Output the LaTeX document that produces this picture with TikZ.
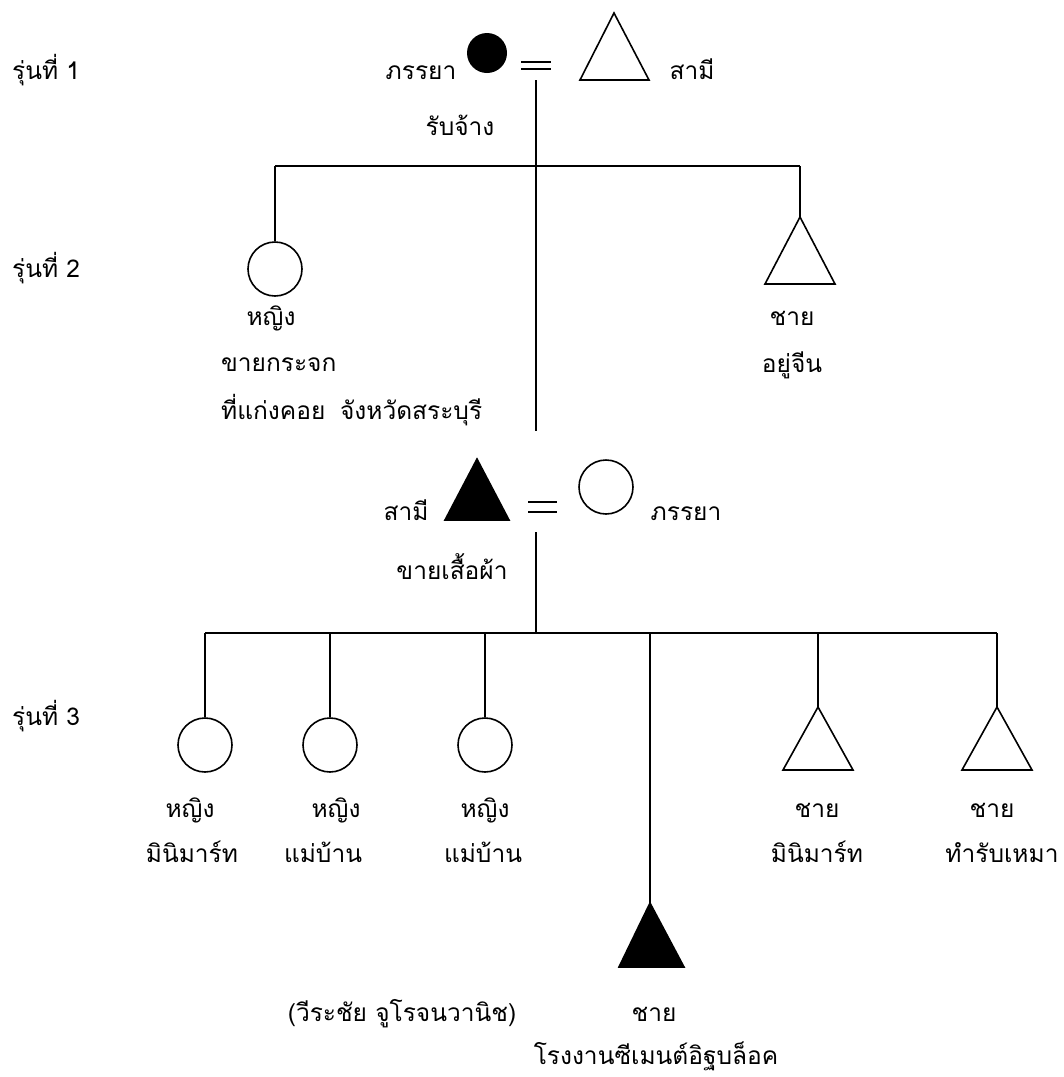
\documentclass[tikz,border=0pt]{standalone}
\usepackage{fontspec}
\newfontfamily\thai[Script=Thai]{Loma}
\begin{document}
\begin{tikzpicture}[x=1pt,y=-1pt,
  lbl/.style={font=\thai\fontsize{24.5}{28}\selectfont, inner sep=0pt, anchor=base, text=black},
  lblw/.style={lbl, anchor=base west},
  ln/.style={line width=1.4pt, draw=black},
  shp/.style={line width=1.6pt, draw=black},
  fem/.style={circle, shp, fill=white, minimum size=54pt, inner sep=0pt},
  femd/.style={circle, fill=black, minimum size=40pt, inner sep=0pt}]
\useasboundingbox (0,0) rectangle (1064,1077);
\fill[white] (0,0) rectangle (1064,1077);
% generation labels
\node[lblw] (gen1) at (12,79) {รุ่นที่ 1};
\node[lblw] (gen2) at (12,277) {รุ่นที่ 2};
\node[lblw] (gen3) at (12,725) {รุ่นที่ 3};
% ---------- generation 1
\node[femd] (w1) at (487,53) {};
\draw[shp] (580,80) -- (614,13) -- (649,80) -- cycle;
\coordinate (h1) at (614,13);
\draw[shp] (521,62) -- (551,62) (521,69) -- (551,69);
\node[lbl] (w1lbl) at (421,79) {ภรรยา};
\node[lbl] (h1lbl) at (692,79) {สามี};
\node[lbl] (w1job) at (460,135) {รับจ้าง};
\coordinate (c1top) at (536,80);
\coordinate (c1bot) at (536,431);
\coordinate (bar1l) at (275,166);
\coordinate (bar1r) at (800,166);
\draw[ln] (c1top) -- (c1bot);
\draw[ln] (bar1l) -- (bar1r);
% ---------- generation 2 siblings
\node[fem] (d1) at (275,269) {};
\draw[shp] (765,284) -- (800,217) -- (835,284) -- cycle;
\coordinate (s1) at (800,217);
\draw[ln] (bar1l) -- (d1.north);
\draw[ln] (bar1r) -- (s1);
\node[lbl] (d1a) at (271,325) {หญิง};
\node[lblw] (d1b) at (221,371) {ขายกระจก};
\node[lblw] (d1c) at (221,419) {ที่แก่งคอย\hspace{0.6em}จังหวัดสระบุรี};
\node[lbl] (s1a) at (792,325) {ชาย};
\node[lbl] (s1b) at (792,372) {อยู่จีน};
% ---------- generation 2 couple
\draw[shp, fill=black] (445,520) -- (477,459) -- (509,520) -- cycle;
\coordinate (h2) at (477,459);
\draw[shp] (528,502) -- (557,502) (528,512) -- (557,512);
\node[fem] (w2) at (606,487) {};
\node[lbl] (h2lbl) at (406,520) {สามี};
\node[lbl] (w2lbl) at (686,520) {ภรรยา};
\node[lbl] (h2job) at (452,579) {ขายเสื้อผ้า};
\coordinate (c2top) at (536,532);
\coordinate (c2bar) at (536,633);
\coordinate (bar2l) at (205,633);
\coordinate (bar2r) at (997,633);
\draw[ln] (c2top) -- (c2bar);
\draw[ln] (bar2l) -- (bar2r);
% ---------- generation 3
\node[fem] (k1) at (205,745) {};
\node[fem] (k2) at (330,745) {};
\node[fem] (k3) at (485,745) {};
\draw[shp] (783,770) -- (818,707) -- (853,770) -- cycle;
\coordinate (k5) at (818,707);
\draw[shp] (962,770) -- (997,707) -- (1032,770) -- cycle;
\coordinate (k6) at (997,707);
\draw[shp, fill=black] (619,967) -- (650,903) -- (684,967) -- cycle;
\coordinate (k4) at (650,903);
\coordinate (b2) at (330,633);
\coordinate (b3) at (485,633);
\coordinate (b4) at (650,633);
\coordinate (b5) at (818,633);
\draw[ln] (bar2l) -- (k1.north);
\draw[ln] (b2) -- (k2.north);
\draw[ln] (b3) -- (k3.north);
\draw[ln] (b4) -- (k4);
\draw[ln] (b5) -- (k5);
\draw[ln] (bar2r) -- (k6);
\node[lbl] (k1a) at (190,817) {หญิง};
\node[lbl] (k1b) at (192,862) {มินิมาร์ท};
\node[lbl] (k2a) at (336,817) {หญิง};
\node[lbl] (k2b) at (323,862) {แม่บ้าน};
\node[lbl] (k3a) at (485,817) {หญิง};
\node[lbl] (k3b) at (483,862) {แม่บ้าน};
\node[lbl] (k5a) at (817,817) {ชาย};
\node[lbl] (k5b) at (817,862) {มินิมาร์ท};
\node[lbl] (k6a) at (992,817) {ชาย};
\node[lbl] (k6b) at (1002,862) {ทำรับเหมา};
\node[lbl] (k4n) at (402,1021) {(วีระชัย จูโรจนวานิช)};
\node[lbl] (k4a) at (654,1021) {ชาย};
\node[lbl] (k4b) at (656,1064) {โรงงานซีเมนต์อิฐบล็อค};
\end{tikzpicture}
\end{document}
